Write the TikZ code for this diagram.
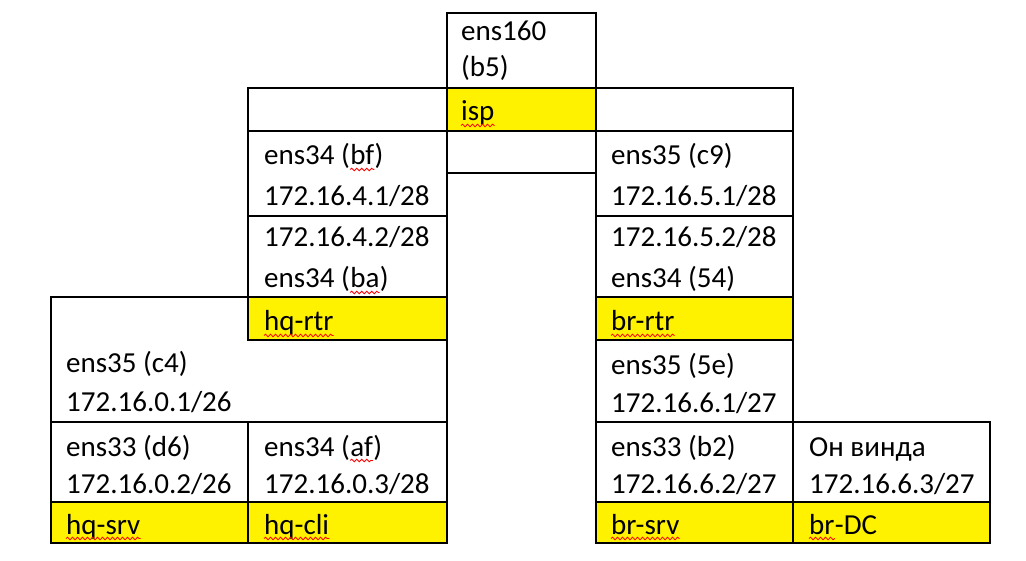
\documentclass[tikz,border=0pt]{standalone}
\usepackage{fontspec}
\setmainfont{Carlito}
\usetikzlibrary{decorations.pathmorphing}
\tikzset{
  cell/.style={draw=black, line width=2pt},
  host/.style={cell, fill=yellow},
  txt/.style={anchor=base west, inner sep=0pt, font=\fontsize{29}{35}\selectfont},
  wave/.style={draw=red, line width=0.8pt, decorate,
    decoration={snake, segment length=5pt, amplitude=1.3pt}},
}
\newcommand\spell[1]{\draw[wave] ([yshift=-4.5pt]#1.base west) -- ([yshift=-4.5pt]#1.base east);}

\begin{document}
\begin{tikzpicture}[x=1pt,y=-1pt]
\useasboundingbox (0,0) rectangle (1026,561);
% isp
\draw[cell] (447,13) rectangle (596,88);
\draw[cell] (248,88) rectangle (793,131);
\draw[host] (447,88) rectangle (596,131);
\draw[cell] (447,131) rectangle (596,173);
% hq side
\draw[cell] (51,297) rectangle (447,422);
\draw[cell] (248,131) rectangle (447,216);
\draw[cell] (248,216) rectangle (447,297);
\draw[host] (248,297) rectangle (447,340);
\draw[cell] (51,422) rectangle (248,502);
\draw[cell] (248,422) rectangle (447,502);
\draw[host] (51,502) rectangle (248,543);
\draw[host] (248,502) rectangle (447,543);
% br side
\draw[cell] (596,131) rectangle (793,216);
\draw[cell] (596,216) rectangle (793,297);
\draw[host] (596,297) rectangle (793,340);
\draw[cell] (596,340) rectangle (793,422);
\draw[cell] (596,422) rectangle (793,502);
\draw[cell] (793,422) rectangle (990,502);
\draw[host] (596,502) rectangle (793,543);
\draw[host] (793,502) rectangle (990,543);

% texts
\node[txt] (isp-a) at (461,41) {ens160};
\node[txt] (isp-b) at (461,77) {(b5)};
\node[txt] (isp) at (461,121) {isp};

\node[txt] (hqup-a) at (264,165) {ens34 (};
\node[txt] (bf) at (hqup-a.base east) {bf};
\node[txt] at (bf.base east) {)};
\node[txt] (hqup-b) at (264,206) {172.16.4.1/28};
\node[txt] (hqrtr-a) at (264,247) {172.16.4.2/28};
\node[txt] (hqrtr-b) at (264,288) {ens34 (};
\node[txt] (ba) at (hqrtr-b.base east) {ba};
\node[txt] at (ba.base east) {)};
\node[txt] (hqrtr) at (264,331) {hq-rtr};
\node[txt] (hqlan-a) at (66,373) {ens35 (c4)};
\node[txt] (hqlan-b) at (66,412) {172.16.0.1/26};
\node[txt] (hqsrv-a) at (66,456) {ens33 (d6)};
\node[txt] (hqsrv-b) at (66,493) {172.16.0.2/26};
\node[txt] (hqsrv) at (66,534) {hq-srv};
\node[txt] (hqcli-a) at (264,456) {ens34 (};
\node[txt] (af) at (hqcli-a.base east) {af};
\node[txt] at (af.base east) {)};
\node[txt] (hqcli-b) at (264,493) {172.16.0.3/28};
\node[txt] (hqcli) at (264,534) {hq-cli};

\node[txt] (brup-a) at (611,165) {ens35 (c9)};
\node[txt] (brup-b) at (611,206) {172.16.5.1/28};
\node[txt] (brrtr-a) at (611,247) {172.16.5.2/28};
\node[txt] (brrtr-b) at (611,288) {ens34 (54)};
\node[txt] (brrtr) at (611,331) {br-rtr};
\node[txt] (brlan-a) at (611,374) {ens35 (5e)};
\node[txt] (brlan-b) at (611,413) {172.16.6.1/27};
\node[txt] (brsrv-a) at (611,456) {ens33 (b2)};
\node[txt] (brsrv-b) at (611,493) {172.16.6.2/27};
\node[txt] (brsrv) at (611,534) {br-srv};
\node[txt] (brdc-a) at (809,456) {Он винда};
\node[txt] (brdc-b) at (809,493) {172.16.6.3/27};
\node[txt] (br) at (809,534) {br};
\node[txt] (brdc) at (br.base east) {-DC};

% spelling marks
\spell{isp} \spell{bf} \spell{ba} \spell{hqrtr} \spell{af}
\spell{hqsrv} \spell{hqcli} \spell{brrtr} \spell{brsrv} \spell{br}
\end{tikzpicture}
\end{document}
